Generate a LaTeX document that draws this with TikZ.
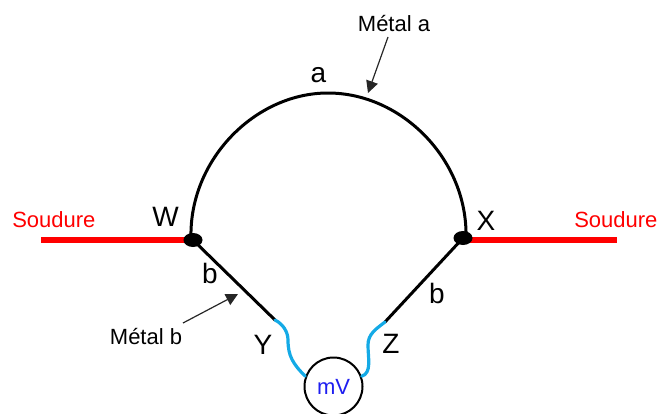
\documentclass[tikz,border=0pt]{standalone}
\usepackage{fontspec}
\setmainfont{Liberation Sans}
\usetikzlibrary{arrows.meta,shapes.geometric}
\tikzset{
  wirek/.style={line width=3pt*0.75,black,line cap=round},
  wireb/.style={line width=3.2pt*0.75,color={rgb,255:red,20;green,170;blue,230},line cap=round},
  solder/.style={line width=5.5pt*0.75,red},
  joint/.style={ellipse,fill=black,minimum width=19pt*0.75,minimum height=14pt*0.75,inner sep=0pt},
  lbl/.style={font=\fontsize{21}{23}\selectfont,inner sep=0pt},
  lblsmall/.style={font=\fontsize{16.5}{18}\selectfont,inner sep=0pt},
  lblred/.style={lblsmall,text=red},
  pointer/.style={line width=0.9pt,black!85,-{Triangle[length=9pt,width=9pt]}},
}
\begin{document}
\begin{tikzpicture}[x=0.75pt,y=-0.75pt]
\useasboundingbox (0,0) rectangle (658,414);
% coordinates
\coordinate (SL) at (41,240);
\coordinate (SR) at (617,240);
\coordinate (Yw) at (275,320);
\coordinate (Zw) at (385,322);
\coordinate (Atip) at (368,93);
\coordinate (Bend) at (238,294);
\coordinate (Wa) at (191,238);
\coordinate (Xa) at (466,238);
\coordinate (Ws) at (193,240);
\coordinate (Xs) at (463,240);
% solder
\draw[solder] (SL) -- (Ws);
\draw[solder] (Xs) -- (SR);
% joints
\node[joint] (W) at (193,240) {};
\node[joint] (X) at (463,238) {};
% meter
\node[circle,draw=black,line width=1.5pt,minimum size=58pt*0.75,inner sep=0pt,text={rgb,255:red,30;green,30;blue,240},font=\fontsize{16.5}{18}\selectfont] (mV) at (333.5,386.5) {mV};
% arc
\draw[wirek] (Wa) .. controls (189,160) and (255,93) .. (328,93) .. controls (402,93) and (468,160) .. (Xa);
% metal b
\draw[wirek] (W.center) -- (Yw);
\draw[wirek] (X.center) -- (Zw);
% blue wires
\draw[wireb] (Yw) .. controls (283,324) and (288,332) .. (288,340) .. controls (288,356) and (293,364) .. (mV.160);
\draw[wireb] (Zw) .. controls (376,329) and (368,334) .. (368,345) .. controls (368,358) and (372,373) .. (mV.20);
% labels
\node[lblred,anchor=west] (s1) at (12,219.5) {Soudure};
\node[lblred,anchor=west] (s2) at (574,219.5) {Soudure};
\node[lbl,anchor=center] (lW) at (165.5,216.5) {W};
\node[lbl,anchor=center] (lX) at (486,220.5) {X};
\node[lbl,anchor=center] (lY) at (263,345) {Y};
\node[lbl,anchor=center] (lZ) at (391,344) {Z};
\node[lbl,anchor=base] (la) at (318.5,82) {a};
\node[lbl,anchor=base] (lb1) at (210,283) {b};
\node[lbl,anchor=base] (lb2) at (437,303) {b};
\node[lblsmall,anchor=center] (ma) at (394,24) {Métal a};
\node[lblsmall,anchor=center] (mb) at (146,337) {Métal b};
% pointers
\draw[pointer] (388,37) -- (Atip);
\draw[pointer] (183,323) -- (Bend);
\end{tikzpicture}
\end{document}
